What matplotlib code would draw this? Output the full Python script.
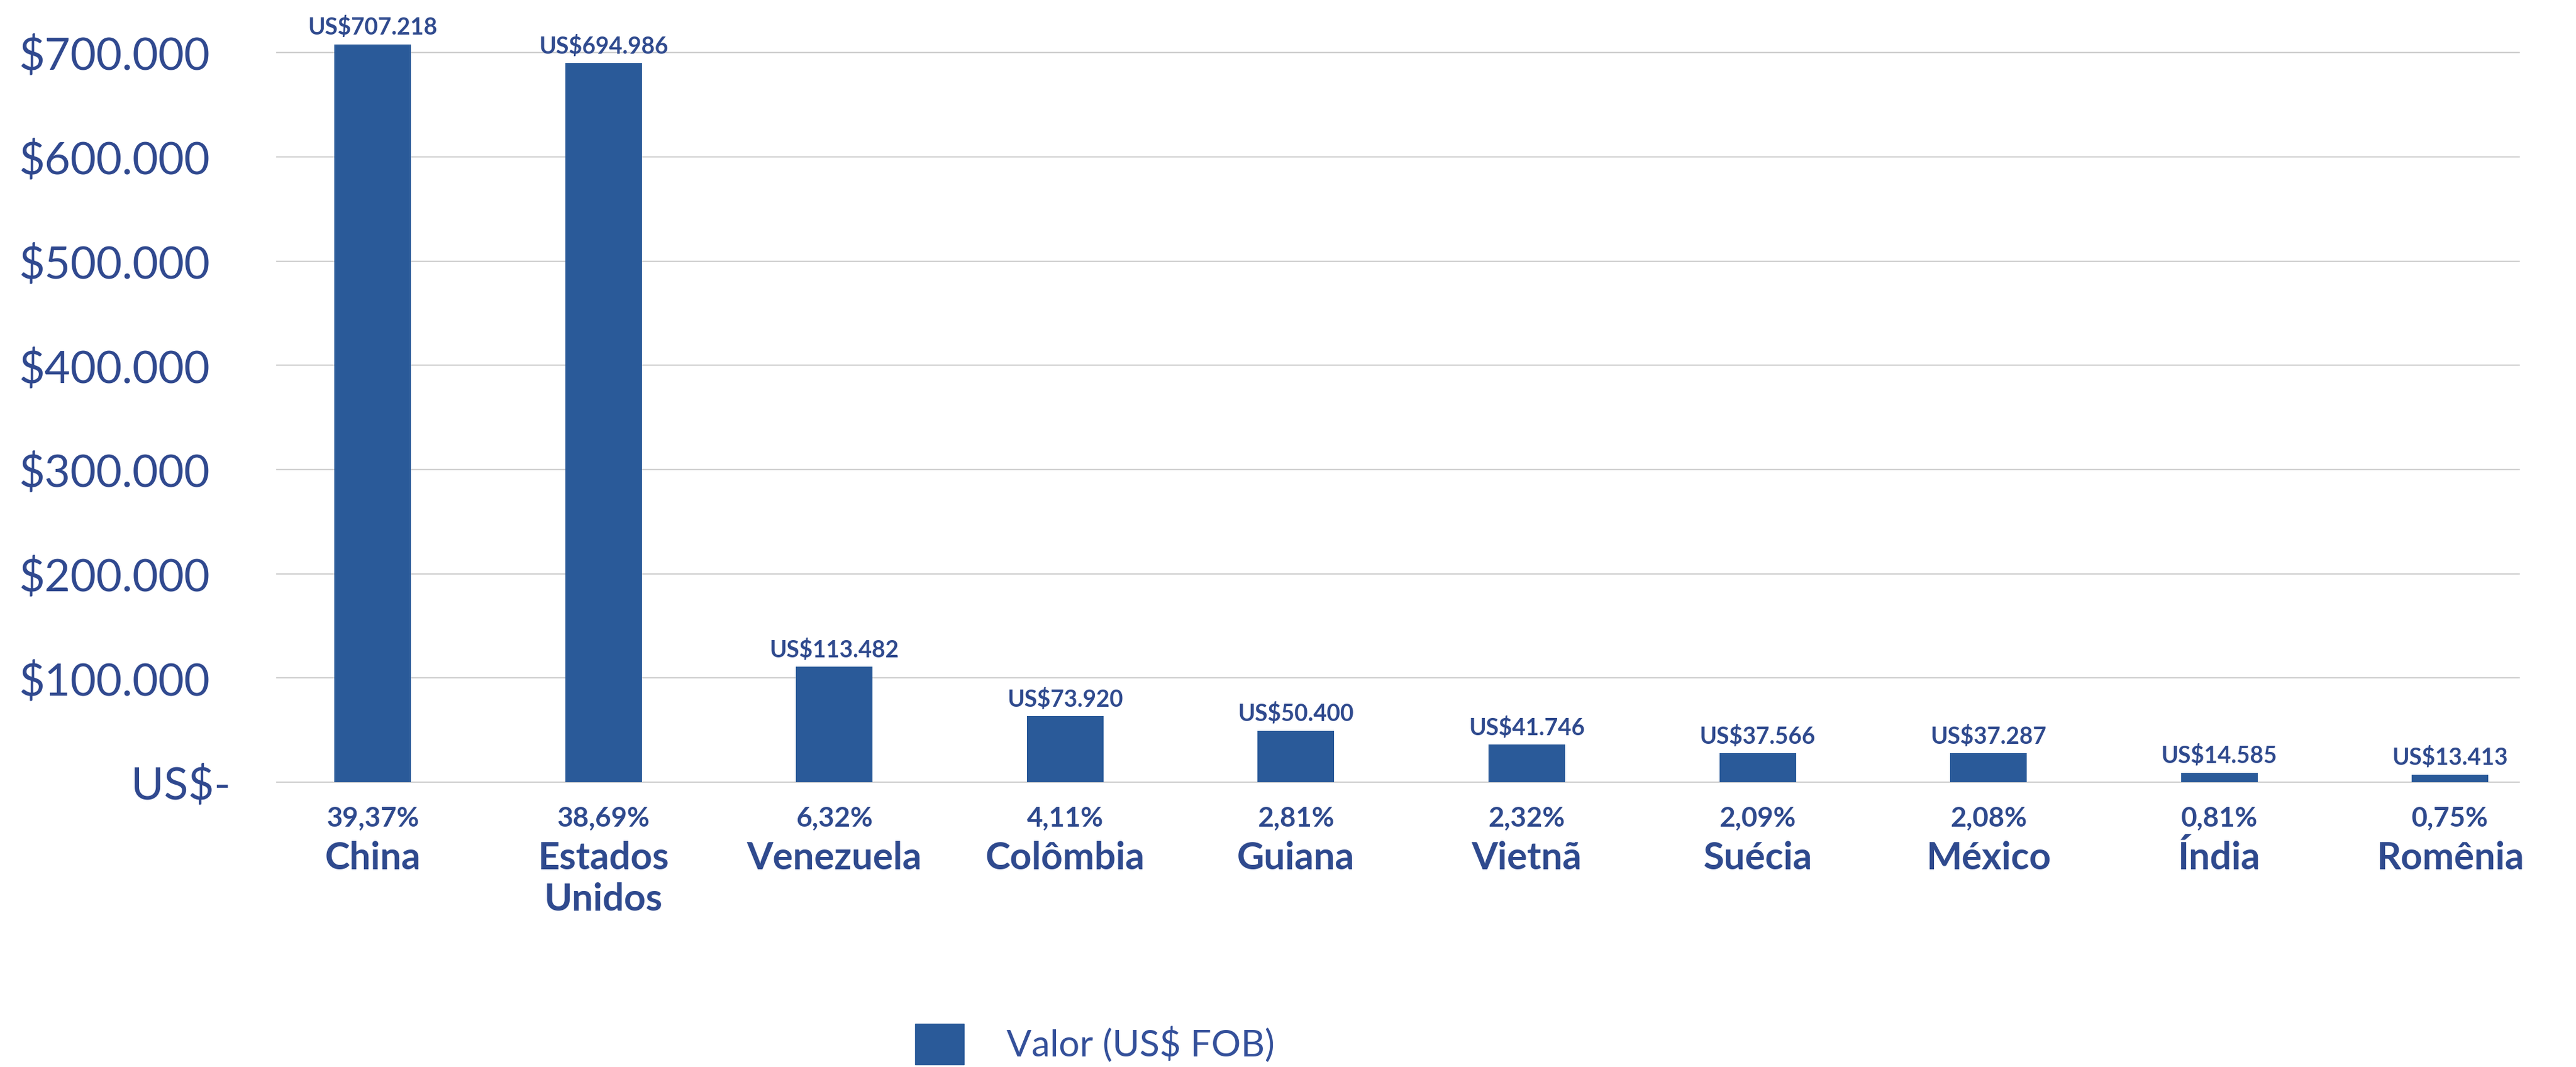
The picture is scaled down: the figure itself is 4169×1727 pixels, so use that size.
import matplotlib.pyplot as plt
from matplotlib.patches import Patch
from matplotlib.transforms import ScaledTranslation

# Dados (valores das barras; rótulos conforme o original)
paises = ["China", "Estados\nUnidos", "Venezuela", "Colômbia", "Guiana",
          "Vietnã", "Suécia", "México", "Índia", "Romênia"]
valores = [708000, 690000, 111000, 63500, 49500, 36000, 28000, 28000, 9200, 7400]
rotulos = ["US$707.218", "US$694.986", "US$113.482", "US$73.920", "US$50.400",
           "US$41.746", "US$37.566", "US$37.287", "US$14.585", "US$13.413"]
participacao = ["39,37%", "38,69%", "6,32%", "4,11%", "2,81%",
                "2,32%", "2,09%", "2,08%", "0,81%", "0,75%"]
yticks = [0, 100000, 200000, 300000, 400000, 500000, 600000, 700000]
ytick_labels = ["US$-", "$100.000", "$200.000", "$300.000", "$400.000",
                "$500.000", "$600.000", "$700.000"]

cor_barra = "#2A5A99"
cor_texto = "#2F4A8E"
fonte = ["Lato", "DejaVu Sans"]

fig = plt.figure(figsize=(41.69, 17.27), dpi=100)
ax = fig.add_axes([0.1075, 0.2669, 0.8705, 0.7131])

x = list(range(len(paises)))
ax.bar(x, valores, width=0.332, color=cor_barra, zorder=3)

ax.set_xlim(-0.415, 9.30)
ax.set_ylim(0, 730000)
ax.set_yticks(yticks)
ax.set_yticklabels(ytick_labels, fontsize=52, color="#30498F", family=fonte)
ax.tick_params(axis="y", length=0, pad=78)
# "US$-" fica um pouco mais à direita no original
zero_lbl = ax.get_yticklabels()[0]
zero_lbl.set_transform(zero_lbl.get_transform() + ScaledTranslation(0.33, 0, fig.dpi_scale_trans))
ax.set_xticks([])
for s in ax.spines.values():
    s.set_visible(False)
ax.yaxis.grid(True, color="#D0D0D0", linewidth=1.6)
ax.set_axisbelow(True)
for linha in ax.get_ygridlines():
    linha.set_clip_on(False)

# rótulos de dados e das categorias
for i in x:
    ax.annotate(rotulos[i], (i, valores[i]), xytext=(0, 11), textcoords="offset points",
                ha="center", va="baseline", fontsize=27, fontweight="bold",
                color=cor_texto, family=fonte, annotation_clip=False)
    ax.annotate(participacao[i], (i, 0), xytext=(0, -51.5), textcoords="offset points",
                ha="center", va="baseline", fontsize=32, fontweight="bold",
                color=cor_texto, family=fonte, annotation_clip=False)
    for k, parte in enumerate(paises[i].split("\n")):
        ax.annotate(parte, (i, 0), xytext=(0, -101.5 - 48 * k), textcoords="offset points",
                    ha="center", va="baseline", fontsize=44, fontweight="bold",
                    color=cor_texto, family=fonte, annotation_clip=False)

fig.legend(handles=[Patch(color=cor_barra, label="Valor (US$ FOB)")],
           loc="center left", bbox_to_anchor=(0.348, 0.0214), frameon=False,
           prop={"family": fonte, "size": 43}, labelcolor="#34509A",
           handlelength=1.33, handleheight=1.33, handletextpad=1.15, borderpad=0)

fig.savefig("out.png", dpi=100, facecolor="white")
